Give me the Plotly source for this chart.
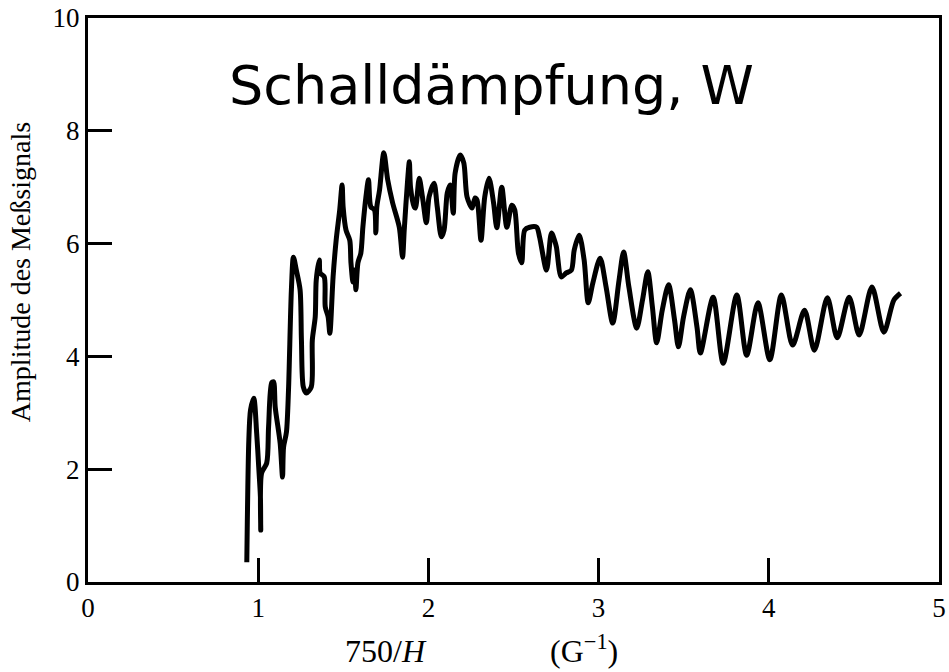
import plotly.graph_objects as go

x_vals = [0.933, 0.945, 0.955, 0.974, 0.991, 1.003, 1.013, 1.015, 1.020, 1.050,
          1.061, 1.079, 1.090, 1.100, 1.129, 1.143, 1.149, 1.166, 1.178, 1.195,
          1.207, 1.224, 1.246, 1.254, 1.265, 1.283, 1.312, 1.318, 1.335, 1.341,
          1.359, 1.364, 1.388, 1.394, 1.411, 1.421, 1.440, 1.458, 1.479, 1.493,
          1.499, 1.516, 1.538, 1.545, 1.557, 1.567, 1.574, 1.586, 1.603, 1.615,
          1.633, 1.648, 1.662, 1.683, 1.691, 1.697, 1.713, 1.738, 1.761, 1.790,
          1.829, 1.848, 1.858, 1.878, 1.888, 1.895, 1.917, 1.924, 1.946, 1.965,
          1.988, 2.004, 2.033, 2.052, 2.076, 2.092, 2.111, 2.128, 2.146, 2.157,
          2.187, 2.208, 2.227, 2.257, 2.274, 2.286, 2.309, 2.331, 2.356, 2.383,
          2.402, 2.431, 2.461, 2.490, 2.507, 2.529, 2.548, 2.566, 2.595, 2.636,
          2.653, 2.694, 2.723, 2.741, 2.752, 2.781, 2.810, 2.840, 2.857, 2.886,
          2.915, 2.939, 2.966, 3.009, 3.044, 3.083, 3.120, 3.147, 3.178, 3.224,
          3.258, 3.289, 3.316, 3.341, 3.374, 3.411, 3.446, 3.469, 3.499, 3.539,
          3.578, 3.598, 3.673, 3.732, 3.812, 3.870, 3.936, 4.006, 4.074, 4.140,
          4.210, 4.268, 4.344, 4.402, 4.472, 4.531, 4.606, 4.676, 4.735, 4.774]
y_vals = [0.35, 2.52, 3.05, 3.26, 2.64, 2.04, 1.51, 0.92, 1.93, 2.11,
          2.75, 3.53, 3.55, 3.10, 2.46, 1.86, 2.39, 2.66, 3.40, 5.18,
          5.76, 5.53, 5.18, 4.29, 3.46, 3.35, 3.46, 4.29, 4.70, 5.35,
          5.71, 5.48, 5.41, 4.88, 4.70, 4.41, 5.41, 6.06, 6.60, 7.04,
          6.65, 6.24, 6.06, 5.66, 5.32, 5.53, 5.18, 5.66, 5.83, 6.29,
          6.83, 7.13, 6.65, 6.60, 6.19, 6.65, 6.95, 7.61, 7.13, 6.72,
          6.29, 5.76, 6.24, 7.13, 7.45, 7.00, 6.65, 6.63, 7.16, 6.83,
          6.37, 6.83, 7.07, 6.65, 6.12, 6.24, 6.90, 7.04, 6.54, 7.25,
          7.57, 7.43, 6.83, 6.63, 6.81, 6.77, 6.06, 6.83, 7.16, 6.72,
          6.28, 7.00, 6.29, 6.68, 6.60, 5.83, 5.66, 6.24, 6.29, 6.29,
          6.12, 5.53, 6.19, 6.06, 5.94, 5.41, 5.48, 5.53, 5.89, 6.15,
          5.71, 4.95, 5.30, 5.74, 5.23, 4.59, 5.35, 5.85, 5.23, 4.50,
          5.00, 5.50, 4.88, 4.24, 4.82, 5.27, 4.65, 4.17, 4.70, 5.18,
          4.52, 4.06, 5.05, 3.88, 5.09, 4.02, 4.95, 3.94, 5.09, 4.20,
          4.82, 4.11, 5.04, 4.33, 5.05, 4.38, 5.23, 4.43, 5.00, 5.12]

x_ticks = [0, 1, 2, 3, 4, 5]
y_ticks = [0, 2, 4, 6, 8, 10]

title_text = "Schalldämpfung, W"
y_title = "Amplitude des Meßsignals"
x_title_left = "750/<i>H</i>"
x_title_right = "(G<sup>−1</sup>)"

serif = "Liberation Serif, Times New Roman, serif"

fig = go.Figure()
fig.add_trace(go.Scatter(
    x=x_vals, y=y_vals, mode="lines",
    line=dict(color="black", width=5, shape="spline", smoothing=0.8),
    showlegend=False, hoverinfo="skip"))

axis_common = dict(
    showline=True, mirror=True, linecolor="black", linewidth=3,
    ticks="inside", ticklen=24, tickwidth=2.5, tickcolor="black",
    showgrid=False, zeroline=False,
    tickfont=dict(family=serif, size=27, color="black"),
    ticklabeloverflow="allow",
)
fig.update_xaxes(range=[0, 5], tickvals=x_ticks, ticktext=[str(v) for v in x_ticks], **axis_common)
fig.update_yaxes(range=[0, 10], tickvals=y_ticks, ticktext=[str(v) for v in y_ticks], **axis_common)

fig.add_annotation(text=title_text, xref="paper", yref="paper", x=0.4745, y=0.880,
                   showarrow=False, font=dict(family="DejaVu Sans", size=54, color="black"),
                   xanchor="center", yanchor="middle")
fig.add_annotation(text=y_title, xref="paper", yref="paper", x=-0.079, y=0.549,
                   textangle=-90, showarrow=False,
                   font=dict(family=serif, size=28, color="black"),
                   xanchor="center", yanchor="middle")
fig.add_annotation(text=x_title_left, xref="paper", yref="paper", x=0.2995, y=-0.157,
                   showarrow=False, font=dict(family=serif, size=32, color="black"),
                   xanchor="left", yanchor="bottom")
fig.add_annotation(text=x_title_right, xref="paper", yref="paper", x=0.6247, y=-0.157,
                   showarrow=False, font=dict(family=serif, size=32, color="black"),
                   xanchor="right", yanchor="bottom")

fig.update_layout(
    width=949, height=672,
    margin=dict(l=88, r=3, t=17, b=90),
    paper_bgcolor="white", plot_bgcolor="white",
)

fig.write_html("out.html")
